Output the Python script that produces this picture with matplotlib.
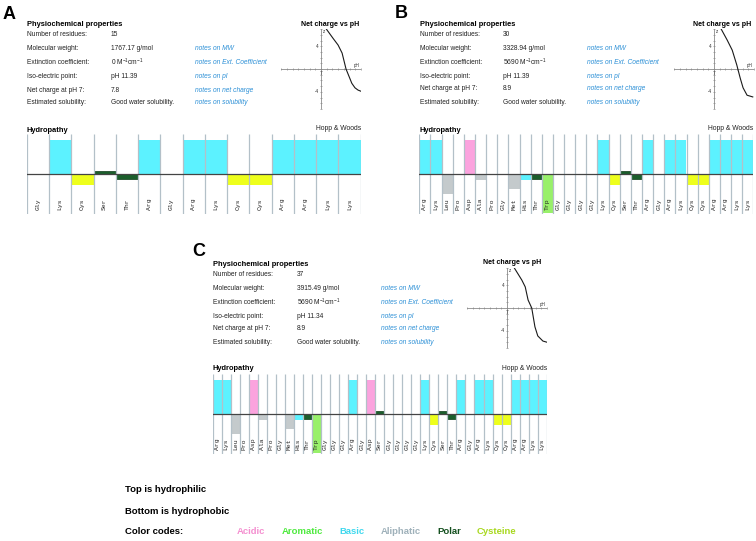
import matplotlib
matplotlib.use("Agg")
import matplotlib.pyplot as plt

W, H = 756, 541

# peptide sequences shown in the hydropathy strips
seq_a = ["Gly", "Lys", "Cys", "Ser", "Thr", "Arg", "Gly", "Arg", "Lys", "Cys",
         "Cys", "Arg", "Arg", "Lys", "Lys"]
seq_b = ["Arg", "Lys", "Leu", "Pro", "Asp", "Ala", "Pro", "Gly", "Met", "His",
         "Thr", "Trp", "Gly", "Gly", "Gly", "Gly", "Lys", "Cys", "Ser", "Thr",
         "Arg", "Gly", "Arg", "Lys", "Cys", "Cys", "Arg", "Arg", "Lys", "Lys"]
seq_c = ["Arg", "Lys", "Leu", "Pro", "Asp", "Ala", "Pro", "Gly", "Met", "His",
         "Thr", "Trp", "Gly", "Gly", "Gly", "Arg", "Gly", "Asp", "Ser", "Gly",
         "Gly", "Gly", "Gly", "Lys", "Cys", "Ser", "Thr", "Arg", "Gly", "Arg",
         "Lys", "Cys", "Cys", "Arg", "Arg", "Lys", "Lys"]

# Hopp & Woods hydrophilicity values
hopp_woods = {"Gly": 0.0, "Lys": 3.0, "Cys": -1.0, "Ser": 0.3, "Thr": -0.4,
              "Arg": 3.0, "Leu": -1.8, "Pro": 0.0, "Asp": 3.0, "Ala": -0.5,
              "Met": -1.3, "His": -0.5, "Trp": -3.4}

residue_class = {"Gly": "Aliphatic", "Lys": "Basic", "Cys": "Cysteine",
                 "Ser": "Polar", "Thr": "Polar", "Arg": "Basic",
                 "Leu": "Aliphatic", "Pro": "Aliphatic", "Asp": "Acidic",
                 "Ala": "Aliphatic", "Met": "Aliphatic", "His": "Basic",
                 "Trp": "Aromatic"}

class_names = ["Acidic", "Aromatic", "Basic", "Aliphatic", "Polar", "Cysteine"]

# physiochemical properties
prop_labels = ["Number of residues:", "Molecular weight:", "Extinction coefficient:",
               "Iso-electric point:", "Net charge at pH 7:", "Estimated solubility:"]
prop_notes = ["", "notes on MW", "notes on Ext. Coefficient", "notes on pI",
              "notes on net charge", "notes on solubility"]
props_a = ["15", "1767.17 g/mol", r"0 M$^{-1}$cm$^{-1}$", "pH 11.39", "7.8",
           "Good water solubility."]
props_b = ["30", "3328.94 g/mol", r"5690 M$^{-1}$cm$^{-1}$", "pH 11.39", "8.9",
           "Good water solubility."]
props_c = ["37", "3915.49 g/mol", r"5690 M$^{-1}$cm$^{-1}$", "pH 11.34", "8.9",
           "Good water solubility."]

# net charge vs pH curves
ph_a = [7.8, 9.1, 10.0, 10.7, 11.39, 12.1, 12.4, 12.96, 13.5, 14.0]
charge_a = [7.2, 5.4, 4.2, 2.8, 0.0, -1.75, -2.5, -3.3, -3.7, -3.9]
ph_b = [8.1, 9.3, 10.2, 11.0, 11.6, 12.1, 12.8, 13.8]
charge_b = [7.3, 5.1, 3.3, 0.7, -1.6, -3.3, -4.6, -4.9]
ph_c = [8.3, 9.6, 10.2, 10.7, 11.34, 11.9, 12.4, 13.3, 14.0]
charge_c = [7.0, 4.9, 3.7, 1.4, 0.0, -3.3, -4.9, -5.8, -6.0]

bar_colors = {"Acidic": "#fba3de", "Aromatic": "#98f06a", "Basic": "#5cf2ff",
              "Aliphatic": "#c4cacc", "Polar": "#1b5e2b", "Cysteine": "#eeff1c"}
legend_colors = {"Acidic": "#f48fd0", "Aromatic": "#4eea3e", "Basic": "#3fd8ee",
                 "Aliphatic": "#9fb1ba", "Polar": "#14501f", "Cysteine": "#a8d81e"}

SANS = "Liberation Sans"
MONO = "Liberation Mono"
TEXT = "#222222"
NOTE = "#2b8fd6"

plt.rcParams["font.family"] = [SANS, "DejaVu Sans"]
plt.rcParams["mathtext.default"] = "regular"

fig = plt.figure(figsize=(W / 100, H / 100), dpi=100)
fig.patch.set_facecolor("white")

overlay = fig.add_axes([0, 0, 1, 1])
overlay.set_xlim(0, W)
overlay.set_ylim(H, 0)
overlay.axis("off")


def px_axes(x0, y0, x1, y1):
    """Add an axes given a box in pixel coordinates (top-left origin)"""
    return fig.add_axes([x0 / W, 1 - y1 / H, (x1 - x0) / W, (y1 - y0) / H])


def draw_properties(letter, letter_xy, x, y_title, rows_y, values, value_x, note_x):
    """Panel letter, title and the property table"""
    overlay.text(letter_xy[0], letter_xy[1], letter, fontsize=13, fontweight="bold",
                 color="black", va="baseline", ha="left")
    overlay.text(x, y_title, "Physiochemical properties", fontsize=5.4,
                 fontweight="bold", color="black", va="center")
    for label, value, note, y in zip(prop_labels, values, prop_notes, rows_y):
        overlay.text(x, y, label, fontsize=4.8, color=TEXT, va="center")
        overlay.text(value_x, y, value, fontsize=4.8, color=TEXT, va="center")
        if note:
            overlay.text(note_x, y, note, fontsize=4.8, color=NOTE, va="center",
                         style="italic")


def draw_charge(box, title_x, title_y, ph, charge):
    """Small net charge vs pH plot"""
    overlay.text(title_x, title_y, "Net charge vs pH", fontsize=5.1,
                 fontweight="bold", color="black", ha="center", va="center")
    ax = px_axes(*box)
    ax.set_xlim(0, 14)
    ax.set_ylim(-7, 7)
    ax.axis("off")
    ax.axhline(0, color="#8a8a8a", lw=0.6)
    ax.axvline(7, color="#8a8a8a", lw=0.6)
    ax.plot(range(0, 15), [0] * 15, ls="none", marker="|", ms=1.6,
            mew=0.5, color="#8a8a8a")
    ax.plot([7] * 15, range(-7, 8), ls="none", marker="_", ms=1.6,
            mew=0.5, color="#8a8a8a")
    ax.plot(ph, charge, color="#1a1a1a", lw=0.8, clip_on=True)
    small = dict(fontsize=3.3, color="#333333")
    ax.text(6.6, 4, "4", ha="right", va="center", **small)
    ax.text(6.6, -4, "-4", ha="right", va="center", **small)
    ax.text(7.05, -0.4, "7", ha="center", va="top", **small)
    ax.text(7.3, 6.6, "z", ha="left", va="center", **small)
    ax.text(13.3, 0.15, "pH", ha="center", va="bottom", **small)


def draw_hydropathy(box, title_y, sequence):
    """Hopp & Woods hydropathy strip"""
    x0, y0, x1, y1 = box
    overlay.text(x0, title_y, "Hydropathy", fontsize=5.4, fontweight="bold",
                 color="black", va="center")
    overlay.text(x1, title_y - 1, "Hopp & Woods", fontsize=4.9, color=TEXT,
                 ha="right", va="center")
    n = len(sequence)
    ax = px_axes(*box)
    ax.set_xlim(0, n)
    ax.set_ylim(-3.53, 3.53)
    ax.axis("off")
    values = [hopp_woods[r] for r in sequence]
    colors = [bar_colors[residue_class[r]] for r in sequence]
    edges = ["#0c3a16" if residue_class[r] == "Polar" else "none" for r in sequence]
    ax.bar([i + 0.5 for i in range(n)], values, width=1, color=colors,
           edgecolor=edges, linewidth=0.5, zorder=1)
    ax.vlines(range(n + 1), -3.53, 3.53, color="#b3c0c8", lw=0.9, zorder=2)
    ax.axhline(0, color="#444444", lw=0.9, zorder=3)
    for i, r in enumerate(sequence):
        ax.text(i + 0.5, -2.65, r, rotation=90, ha="center", va="center",
                fontsize=4.6, family=MONO, color="#222222", zorder=4)


# panel A
draw_properties("A", (3, 19), 27, 24, [34, 48, 62, 76, 90, 102], props_a, 111, 195)
draw_charge((281.1, 29.1, 360.9, 108.9), 330, 24, ph_a, charge_a)
draw_hydropathy((26.7, 134, 360.7, 214), 130, seq_a)

# panel B
draw_properties("B", (395, 18), 420, 24, [34, 48, 62, 76, 89, 102], props_b, 503, 587)
draw_charge((674.1, 29.1, 753.9, 108.9), 722, 24, ph_b, charge_b)
draw_hydropathy((419.3, 134, 753.3, 214), 130, seq_b)

# panel C
draw_properties("C", (192, 256), 213, 264, [275, 288, 302, 316, 329, 342], props_c, 297, 381)
draw_charge((467.1, 268.1, 546.9, 347.9), 512, 263, ph_c, charge_c)
draw_hydropathy((212.7, 374, 546.7, 454), 369, seq_c)

# key below the panels
key = dict(fontsize=6.8, fontweight="bold", va="center")
overlay.text(125, 490, "Top is hydrophilic", color="black", **key)
overlay.text(125, 512, "Bottom is hydrophobic", color="black", **key)
overlay.text(125, 532, "Color codes:", color="black", **key)
for name, x in zip(class_names, [237, 282, 339, 381, 437, 477]):
    overlay.text(x, 532, name, color=legend_colors[name], **key)

fig.savefig("out.png", dpi=100, facecolor="white")
plt.close(fig)
